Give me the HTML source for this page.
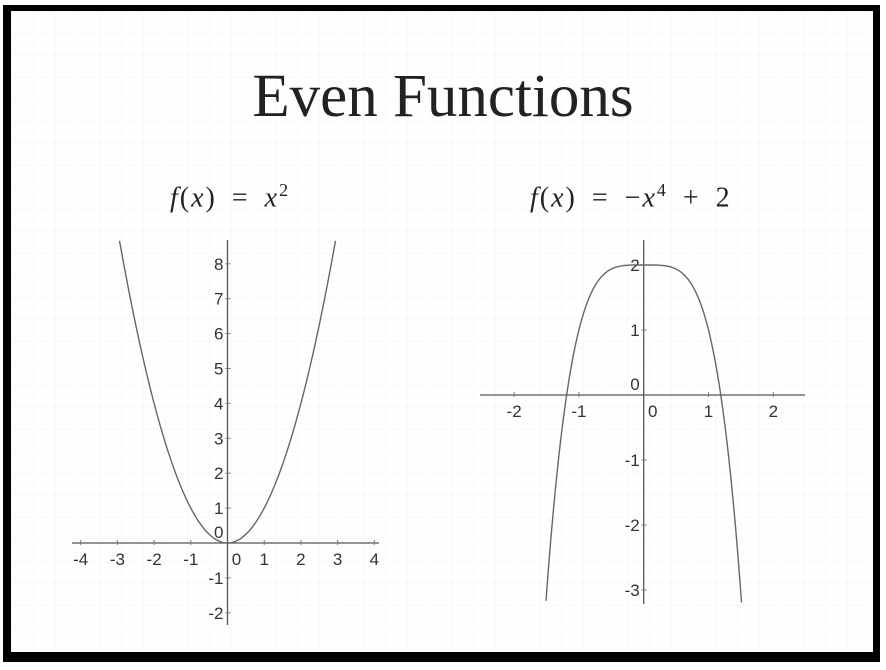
<!DOCTYPE html>
<html><head><meta charset="utf-8"><style>
html,body{margin:0;padding:0;background:#fff;width:886px;height:670px;overflow:hidden}
#frame{position:absolute;left:3px;top:5px;width:877px;height:657px;background:#000}
#slide{position:absolute;left:11px;top:11px;width:862px;height:641px;background:#fefefe;
background-image:linear-gradient(#f8f8f8 1px,transparent 1px),linear-gradient(90deg,#f8f8f8 1px,transparent 1px);background-size:22px 22px}
.t{position:absolute;font-family:"Liberation Serif",serif;color:#222;white-space:nowrap}
.f{font-size:28px;letter-spacing:2px;word-spacing:6px}
svg{position:absolute;left:0;top:0}
</style></head><body>
<div id="frame"></div>
<div id="slide"></div>
<div class="t" style="left:0;width:886px;text-align:center;top:62px;font-size:61px">Even Functions</div>
<div class="t f" style="left:170px;top:180px"><i>f</i>(<i>x</i>) = <i>x</i><sup style="font-size:18px">2</sup></div>
<div class="t f" style="left:530px;top:180px"><i>f</i>(<i>x</i>) = −<i>x</i><sup style="font-size:18px">4</sup> + 2</div>
<svg id="svg" width="886" height="670"></svg>
<script>
const leftXTicks=[-4,-3,-2,-1,0,1,2,3,4];
const leftYTicks=[-2,-1,0,1,2,3,4,5,6,7,8];
const rightXTicks=[-2,-1,0,1,2];
const rightYTicks=[-3,-2,-1,0,1,2];
const leftCoef=[1,2];   // y = a*x^n
const rightCoef=[-1,4,2]; // y = a*x^n + c
const NS="http://www.w3.org/2000/svg";
const svg=document.getElementById('svg');
function el(tag,attrs){const e=document.createElementNS(NS,tag);for(const k in attrs)e.setAttribute(k,attrs[k]);svg.appendChild(e);return e;}
function chart(o,name,f,xt,yt){
  const sx=v=>o.x0+v*o.kx, sy=v=>o.y0-v*o.ky;
  let a=el('line',{x1:o.xa[0],x2:o.xa[1],y1:o.y0,y2:o.y0,stroke:'#555','stroke-width':1.3});
  
  a=el('line',{x1:o.x0,x2:o.x0,y1:o.ya[0],y2:o.ya[1],stroke:'#555','stroke-width':1.3});
  
  xt.forEach(v=>{
    if(v!==0){el('line',{x1:sx(v),x2:sx(v),y1:o.y0-3,y2:o.y0+2,stroke:'#777'});}
    const t=el('text',{x:v===0?o.x0+9:sx(v),y:o.y0+22,'text-anchor':'middle','font-family':'Liberation Sans,sans-serif','font-size':17,fill:'#333'});
    t.textContent=v;
    
    
  });
  yt.forEach(v=>{
    if(v!==0){el('line',{x1:o.x0-2,x2:o.x0+3,y1:sy(v),y2:sy(v),stroke:'#777'});}
    const t=el('text',{x:o.x0-4,y:v===0?o.y0-5:sy(v)+6,'text-anchor':'end','font-family':'Liberation Sans,sans-serif','font-size':17,fill:'#333'});
    t.textContent=v;
    
    
  });
  let d='';
  for(let px=o.xa[0];px<=o.xa[1];px+=0.5){
    const x=(px-o.x0)/o.kx, y=f(x), py=sy(y);
    if(py<o.clip[0]||py>o.clip[1]){continue;}
    d+=(d?'L':'M')+px.toFixed(1)+' '+py.toFixed(1);
  }
  const p=el('path',{d:d,fill:'none',stroke:'#666','stroke-width':1.4});
  
  
}
chart({x0:227.5,y0:543,kx:36.7,ky:34.9,xa:[72,379],ya:[240,625],clip:[240,625]},'left-chart',
  x=>leftCoef[0]*Math.pow(x,leftCoef[1]),leftXTicks,leftYTicks);
chart({x0:643.7,y0:395,kx:64.8,ky:65,xa:[480,805],ya:[240,604],clip:[240,603]},'right-chart',
  x=>rightCoef[0]*Math.pow(x,rightCoef[1])+rightCoef[2],rightXTicks,rightYTicks);
</script>
</body></html>
